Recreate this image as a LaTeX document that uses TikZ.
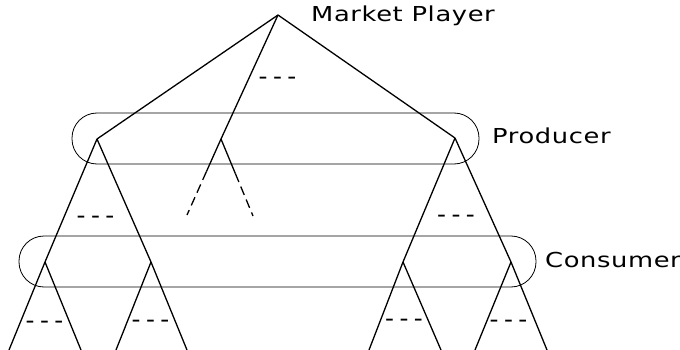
\documentclass[tikz,border=0pt]{standalone}
\usepackage{fontspec}
\usetikzlibrary{calc}
\setmainfont{DejaVu Sans}
\newfontfamily\labelfont[FakeStretch=1.25,LetterSpace=3]{DejaVu Sans}
\newfontfamily\dashfont{Liberation Mono}
\begin{document}
\begin{tikzpicture}[x=1pt,y=-1pt,
  edge/.style={line width=1.3pt},
  group/.style={draw, line width=0.8pt, rounded corners=25pt, minimum height=51pt, inner sep=0pt},
  lbl/.style={anchor=base west, inner sep=0pt, font=\labelfont\fontsize{20.6}{24}\selectfont},
  etc/.style={anchor=base, inner sep=0pt, font=\dashfont\fontsize{24}{28}\selectfont}]
\useasboundingbox (0,0) rectangle (680,350);
% group boxes
\node[group, minimum width=407pt] (prodbox) at (275.5,138.5) {};
\node[group, minimum width=517pt] (consbox) at (277.5,261.5) {};
% tree nodes
\coordinate (root) at (278,15);
\coordinate (pL) at (97,139);
\coordinate (pM) at (221,139);
\coordinate (pR) at (455,138);
\coordinate (c1) at (45,262);
\coordinate (c2) at (151,262);
\coordinate (c3) at (403,262);
\coordinate (c4) at (511,262);
\coordinate (mL) at (187,215);
\coordinate (mR) at (253,216);
\coordinate (l1) at (9,350);  \coordinate (l2) at (81,350);
\coordinate (l3) at (116,350); \coordinate (l4) at (187,350);
\coordinate (l5) at (369,350); \coordinate (l6) at (441,350);
\coordinate (l7) at (475,350); \coordinate (l8) at (547,350);
% edges
\draw[edge] (root) -- (pL);
\draw[edge] (root) -- (pM);
\draw[edge] (root) -- (pR);
\draw[edge] (pM) -- ($(pM)!0.43!(mL)$) coordinate (mLs);
\draw[edge] (pM) -- ($(pM)!0.45!(mR)$) coordinate (mRs);
\draw[edge, dash pattern=on 9pt off 5pt] (mLs) -- (mL);
\draw[edge, dash pattern=on 9pt off 5pt] (mRs) -- (mR);
\draw[edge] (pL) -- (c1);
\draw[edge] (pL) -- (c2);
\draw[edge] (pR) -- (c3);
\draw[edge] (pR) -- (c4);
\draw[edge] (c1) -- (l1); \draw[edge] (c1) -- (l2);
\draw[edge] (c2) -- (l3); \draw[edge] (c2) -- (l4);
\draw[edge] (c3) -- (l5); \draw[edge] (c3) -- (l6);
\draw[edge] (c4) -- (l7); \draw[edge] (c4) -- (l8);
% labels
\node[lbl] (tMP) at (311,22) {Market Player};
\node[lbl] (tP) at (492,143) {Producer};
\node[lbl] (tC) at (545,267) {Consumer};
% ellipsis marks
\node[etc] (e0) at (277.5,84.5) {-{}-{}-};
\node[etc] (e1) at (95.5,223.5) {-{}-{}-};
\node[etc] (e2) at (456,222.5) {-{}-{}-};
\node[etc] (e3) at (44.5,328.5) {-{}-{}-};
\node[etc] (e4) at (150.5,327.5) {-{}-{}-};
\node[etc] (e5) at (404,326.5) {-{}-{}-};
\node[etc] (e6) at (508.5,327.5) {-{}-{}-};
\end{tikzpicture}
\end{document}
